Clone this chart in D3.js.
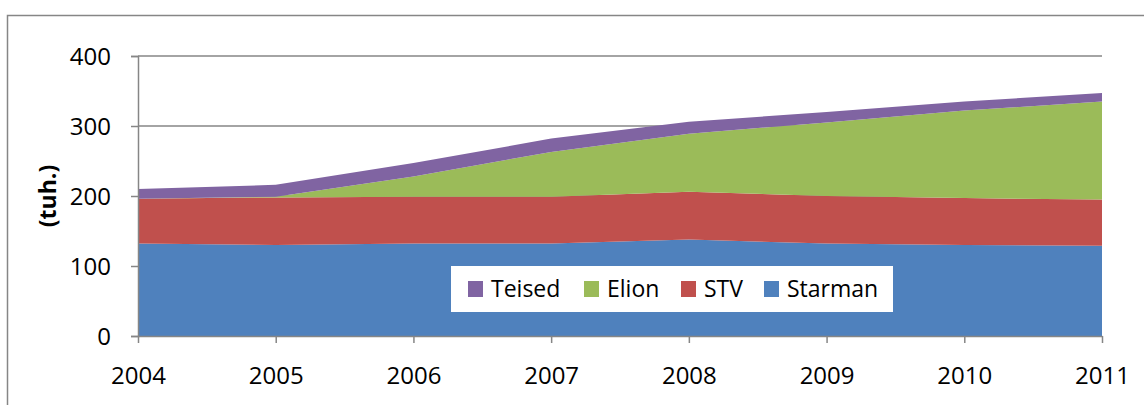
<!DOCTYPE html>
<html>
<head>
<meta charset="utf-8">
<script src="https://cdn.jsdelivr.net/npm/d3@7"></script>
<style>
  body { margin: 0; background: #fff; }
  text { font-family: "Open Sans", "Noto Sans", sans-serif; fill: #000; }
</style>
</head>
<body>
<div id="chart"></div>
<script>
// data (tuh.)
const years = ["2004", "2005", "2006", "2007", "2008", "2009", "2010", "2011"];
const starman = [132, 130, 132, 132, 138, 132, 130, 129];
const stv = [64, 68, 67, 67, 68, 68, 67, 66];
const elion = [0, 1, 29, 64, 83, 105, 125, 140];
const teised = [14, 17, 19, 19, 17, 15, 13, 12];
const yTicks = [0, 100, 200, 300, 400];

const seriesNames = ["Starman", "STV", "Elion", "Teised"];
const colors = {Starman: "#4F81BD", STV: "#C0504D", Elion: "#9BBB59", Teised: "#8064A2"};

const width = 1144, height = 405;
const margin = {top: 56, right: 42, bottom: 69, left: 138};

const rows = years.map((y, i) => ({year: y, Starman: starman[i], STV: stv[i], Elion: elion[i], Teised: teised[i]}));

const svg = d3.select("#chart").append("svg")
    .attr("width", width)
    .attr("height", height);

// outer chart border
svg.append("rect")
    .attr("x", 7.5).attr("y", 15.5)
    .attr("width", width + 10).attr("height", height + 10)
    .attr("fill", "none")
    .attr("stroke", "#868686")
    .attr("stroke-width", 1.5);

const g = svg.append("g")
    .attr("transform", "translate(" + margin.left + "," + margin.top + ")");

const w = width - margin.left - margin.right;
const h = height - margin.top - margin.bottom;

const x = d3.scalePoint().domain(years).range([0, w]);
const y = d3.scaleLinear().domain([0, 400]).range([h, 0]);

// gridlines
g.selectAll(".grid")
    .data(yTicks.slice(1))
    .enter().append("line")
    .attr("x1", 0).attr("x2", w)
    .attr("y1", d => y(d)).attr("y2", d => y(d))
    .attr("stroke", "#868686")
    .attr("stroke-width", 1.5);

// stacked areas
const stack = d3.stack().keys(seriesNames);
const layers = stack(rows);

const area = d3.area()
    .x(d => x(d.data.year))
    .y0(d => y(d[0]))
    .y1(d => y(d[1]));

g.selectAll(".layer")
    .data(layers)
    .enter().append("path")
    .attr("d", area)
    .attr("fill", d => colors[d.key]);

// y axis
const yAxis = g.append("g")
    .call(d3.axisLeft(y).tickValues(yTicks).tickSize(7).tickPadding(20));
yAxis.select(".domain").attr("stroke", "#868686").attr("stroke-width", 1.5);
yAxis.selectAll(".tick line").attr("stroke", "#868686").attr("stroke-width", 1.5);
yAxis.selectAll("text").style("font-size", "24px").attr("dy", "0.35em");

// x axis
const xAxis = g.append("g")
    .attr("transform", "translate(0," + h + ")")
    .call(d3.axisBottom(x).tickSize(7).tickPadding(24).tickSizeOuter(0));
xAxis.select(".domain").attr("stroke", "#868686").attr("stroke-width", 1.5);
xAxis.selectAll(".tick line").attr("stroke", "#868686").attr("stroke-width", 1.5);
xAxis.selectAll("text").style("font-size", "24px");

// y axis title
svg.append("text")
    .attr("transform", "translate(56," + (margin.top + h / 2) + ") rotate(-90)")
    .attr("text-anchor", "middle")
    .style("font-size", "23px")
    .style("font-weight", "bold")
    .text("(tuh.)");

// legend
const legendOrder = ["Teised", "Elion", "STV", "Starman"];
const legendX = [468, 584, 681, 764];
const legend = svg.append("g");
legend.append("rect")
    .attr("x", 451).attr("y", 266)
    .attr("width", 442).attr("height", 46)
    .attr("fill", "#fff");
const items = legend.selectAll(".item")
    .data(legendOrder)
    .enter().append("g")
    .attr("transform", (d, i) => "translate(" + legendX[i] + ",281)");
items.append("rect")
    .attr("width", 15).attr("height", 16)
    .attr("fill", d => colors[d]);
items.append("text")
    .attr("x", 23).attr("y", 8)
    .attr("dy", "0.36em")
    .style("font-size", "23px")
    .text(d => d);
</script>
</body>
</html>
